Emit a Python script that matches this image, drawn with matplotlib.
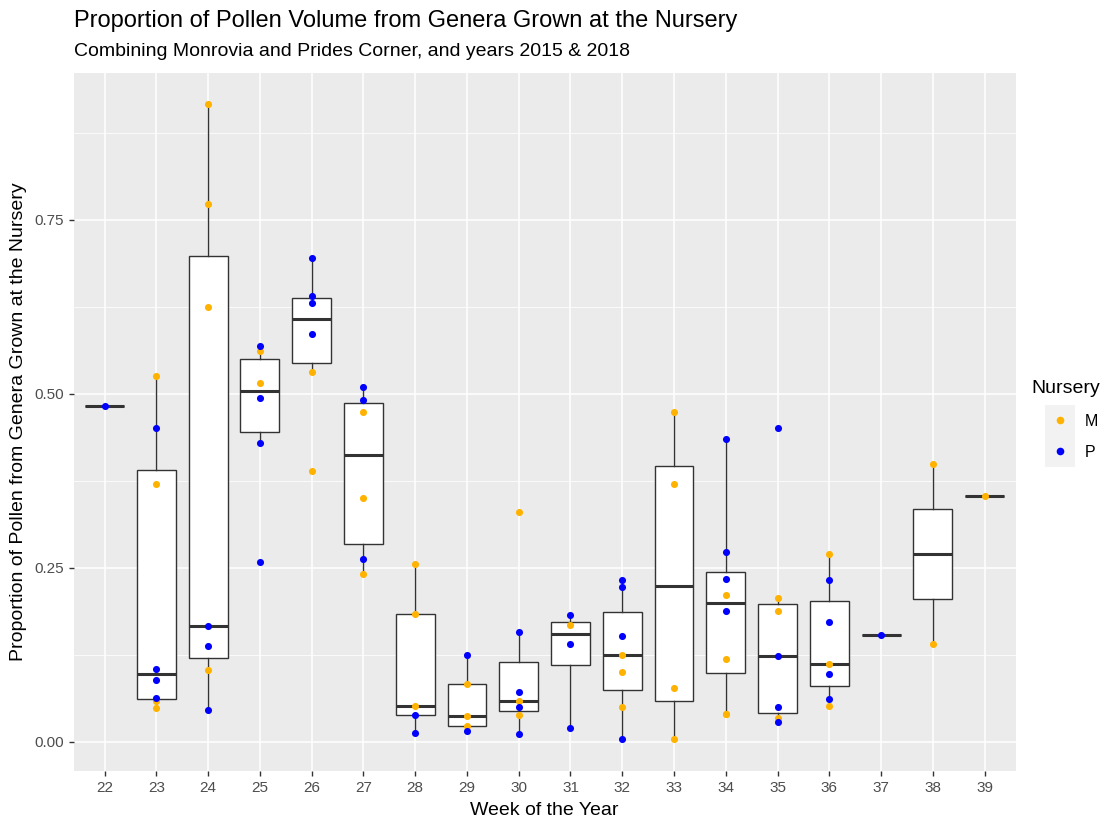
import matplotlib
matplotlib.use("Agg")
import matplotlib.pyplot as plt
from matplotlib.lines import Line2D
from matplotlib.patches import Rectangle

plt.rcParams['font.family'] = ['Liberation Sans', 'DejaVu Sans']

weeks = [22, 23, 24, 25, 26, 27, 28, 29, 30, 31, 32, 33, 34, 35, 36, 37, 38, 39]

# proportions, nursery M (Monrovia) and P (Prides Corner)
m_vals = [
    [],
    [0.525, 0.370, 0.058, 0.049],
    [0.916, 0.772, 0.6245, 0.1034],
    [0.561, 0.515],
    [0.531, 0.389],
    [0.473, 0.3506, 0.2414],
    [0.2548, 0.1839, 0.0517],
    [0.0824, 0.0364, 0.023],
    [0.3295, 0.0584, 0.0379],
    [0.168],
    [0.1245, 0.0996, 0.0494],
    [0.4732, 0.3697, 0.0766, 0.0039],
    [0.2107, 0.1188, 0.0402, 0.0400],
    [0.2069, 0.1877, 0.0335],
    [0.270, 0.111, 0.0517],
    [],
    [0.3984, 0.1398],
    [0.353],
]
p_vals = [
    [0.483],
    [0.450, 0.105, 0.089, 0.063],
    [0.1667, 0.138, 0.046],
    [0.569, 0.494, 0.429, 0.2586],
    [0.695, 0.640, 0.630, 0.586],
    [0.5095, 0.4904, 0.2625],
    [0.0378, 0.0129],
    [0.1245, 0.0148],
    [0.157, 0.0709, 0.0494, 0.011],
    [0.182, 0.140, 0.019],
    [0.2318, 0.2222, 0.1513, 0.0034],
    [],
    [0.4349, 0.272, 0.2337, 0.1877],
    [0.450, 0.1226, 0.0498, 0.0287],
    [0.2318, 0.1724, 0.0977, 0.0613],
    [0.1533],
    [],
    [],
]

col_m = "#FFB300"
col_p = "#0000FF"
edge = "#333333"

fig = plt.figure(figsize=(11.15, 8.21), dpi=100)
W, H = 1115, 821
left, right, top, bottom = 73.5, 1015.7, 72.5, 771
ax = fig.add_axes([left / W, (H - bottom) / H, (right - left) / W, (bottom - top) / H])
ax.set_facecolor("#EBEBEB")

pos = list(range(len(weeks)))
allv = [m + p for m, p in zip(m_vals, p_vals)]

bp = ax.boxplot(allv, positions=pos, widths=0.75, whis=1.5, showfliers=False,
                showcaps=False, patch_artist=True, zorder=3,
                boxprops=dict(facecolor="white", edgecolor=edge, linewidth=1.0),
                whiskerprops=dict(color=edge, linewidth=1.0),
                medianprops=dict(color=edge, linewidth=2.2, solid_capstyle="butt"))

for i in pos:
    if m_vals[i]:
        ax.scatter([i] * len(m_vals[i]), m_vals[i], s=26, color=col_m, zorder=4, linewidths=0)
    if p_vals[i]:
        ax.scatter([i] * len(p_vals[i]), p_vals[i], s=26, color=col_p, zorder=5, linewidths=0)

ax.set_xlim(-0.6, len(weeks) - 1 + 0.6)
vmin = min(min(v) for v in allv)
vmax = max(max(v) for v in allv)
pad = (vmax - vmin) * 0.05
ax.set_ylim(vmin - pad, vmax + pad)

ax.set_xticks(pos)
ax.set_xticklabels([str(w) for w in weeks])
ax.set_yticks([0, 0.25, 0.5, 0.75])
ax.set_yticklabels(["0.00", "0.25", "0.50", "0.75"])
ax.set_yticks([0.125, 0.375, 0.625, 0.875], minor=True)
ax.grid(True, which="major", color="white", linewidth=1.1, zorder=0)
ax.grid(True, which="minor", axis="y", color="white", linewidth=0.55, zorder=0)
ax.set_axisbelow(True)
for s in ax.spines.values():
    s.set_visible(False)
ax.tick_params(which="major", length=3.5, width=1.0, color="#333333",
               labelsize=11, labelcolor="#4D4D4D", pad=3.5)
ax.tick_params(which="minor", length=0)

ax.set_xlabel("Week of the Year", fontsize=14, labelpad=5)
ax.set_ylabel("Proportion of Pollen from Genera Grown at the Nursery", fontsize=14, labelpad=5)

fig.text(left / W, 1 - 21 / H, "Proportion of Pollen Volume from Genera Grown at the Nursery",
         fontsize=17, va="center", ha="left")
fig.text(left / W, 1 - 52 / H, "Combining Monrovia and Prides Corner, and years 2015 & 2018",
         fontsize=14, va="center", ha="left")

# legend: grey key background, title, and keys
fig.patches.append(Rectangle((1045 / W, 1 - 467 / H), 30 / W, 62 / H,
                             transform=fig.transFigure, facecolor="#F2F2F2",
                             edgecolor="none", zorder=0))
fig.text(1031 / W, 1 - 388 / H, "Nursery", fontsize=14, va="center", ha="left")
handles = [Line2D([], [], marker="o", linestyle="", color=col_m, markersize=5.5, markeredgewidth=0),
           Line2D([], [], marker="o", linestyle="", color=col_p, markersize=5.5, markeredgewidth=0)]
leg = fig.legend(handles, ["M", "P"], loc="upper left",
                 bbox_to_anchor=(1045 / W, 1 - 414 / H), frameon=False, borderpad=0,
                 borderaxespad=0, fontsize=11.5, handlelength=1.875,
                 handletextpad=0.6, labelspacing=1.0)

fig.savefig("out.png", dpi=100)
